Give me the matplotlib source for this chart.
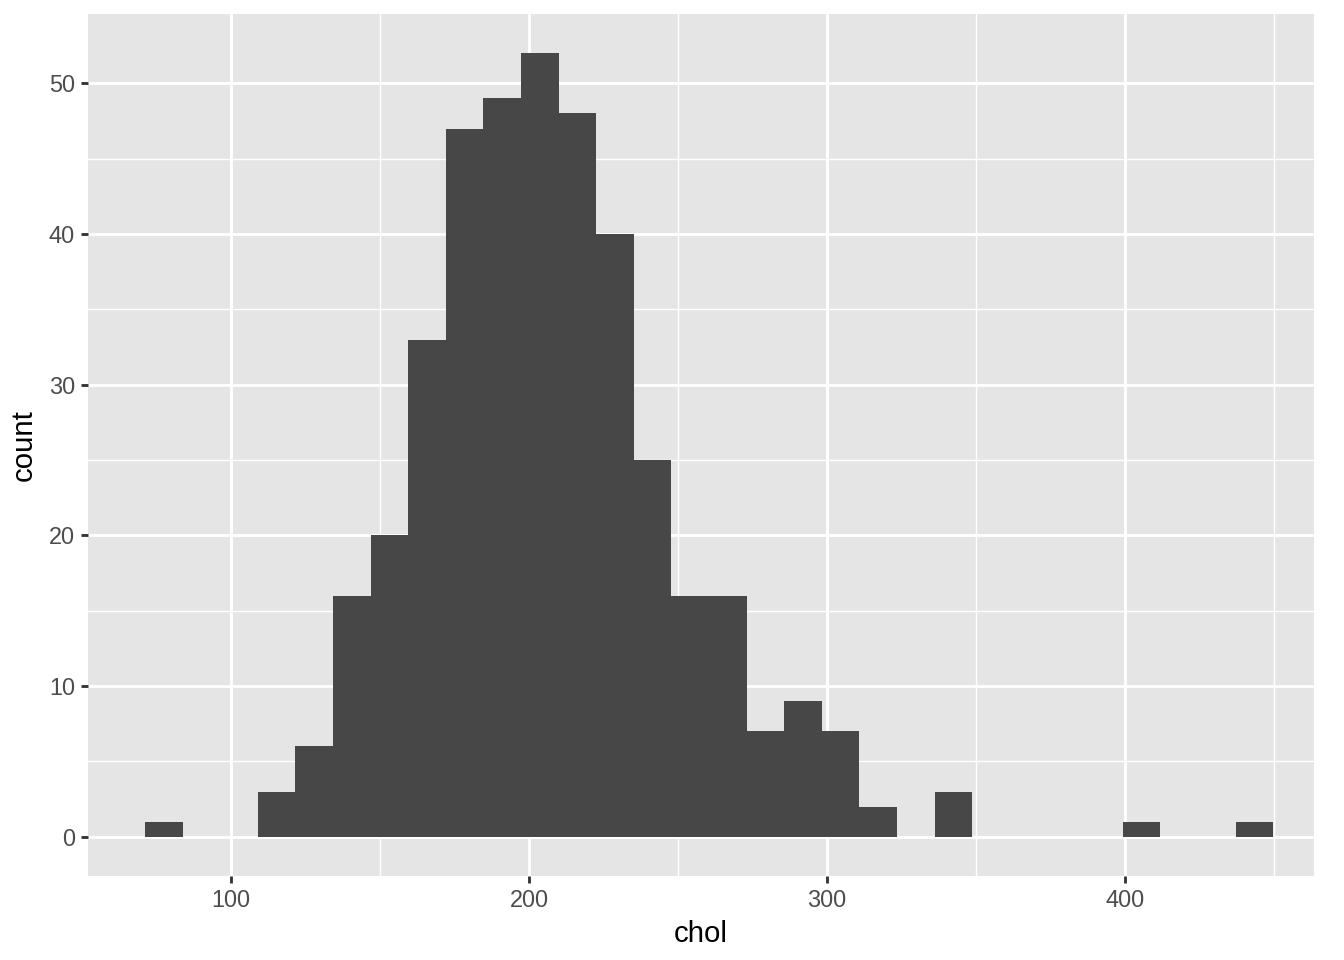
import matplotlib.pyplot as plt
import numpy as np

plt.rcParams['font.family'] = ['Liberation Sans', 'DejaVu Sans']

# histogram of chol, 30 bins (ggplot default)
bin_start = 71.1
bin_width = 12.62
counts = [1, 0, 0, 3, 6, 16, 20, 33, 47, 49, 52, 48, 40, 25, 16, 16,
          7, 9, 7, 2, 0, 3, 0, 0, 0, 0, 1, 0, 0, 1]
x_ticks = [100, 200, 300, 400]
y_ticks = [0, 10, 20, 30, 40, 50]

fig = plt.figure(figsize=(7, 5), dpi=192)
ax = fig.add_axes([88 / 1344, 1 - 876 / 960, (1314 - 88) / 1344, (876 - 14) / 960])

ax.set_facecolor('#E5E5E5')
for s in ax.spines.values():
    s.set_visible(False)

lefts = bin_start + bin_width * np.arange(len(counts))
ax.bar(lefts, counts, width=bin_width, align='edge', color='#474747',
       linewidth=0, zorder=3)

xmin, xmax = 52.0, 463.4
ax.set_xlim(xmin, xmax)
ax.set_ylim(-2.6, 54.6)

ax.set_xticks(x_ticks)
ax.set_yticks(y_ticks)
ax.set_xticks([150, 250, 350, 450], minor=True)
ax.set_yticks([5, 15, 25, 35, 45], minor=True)
ax.grid(which='major', color='white', linewidth=1.07, zorder=1)
ax.grid(which='minor', color='white', linewidth=0.53, zorder=1)
ax.tick_params(which='major', length=2.75, width=1.07, color='#333333',
               labelsize=8.8, labelcolor='#4D4D4D', pad=2.2)
ax.tick_params(which='minor', length=0)

ax.set_xlabel('chol', fontsize=11, color='black', labelpad=3)
ax.set_ylabel('count', fontsize=11, color='black', labelpad=4)

fig.savefig('out.png', dpi=192)
